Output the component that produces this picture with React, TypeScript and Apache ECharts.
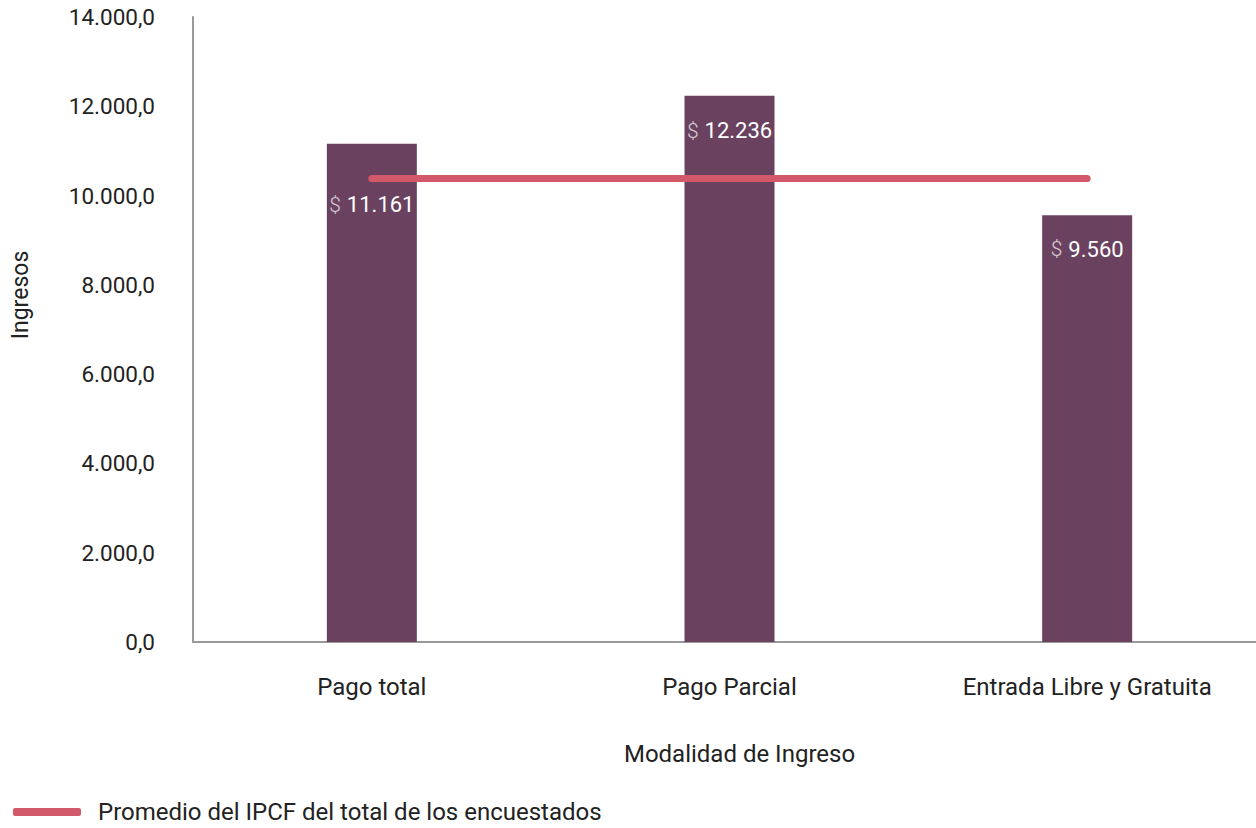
import React, { useEffect, useRef } from "react";
import * as echarts from "echarts";

const categories = ["Pago total", "Pago Parcial", "Entrada Libre y Gratuita"];
const ingresos = [11161, 12236, 9560];
const promedio = [10380, 10380, 10380];
const labelDistances = [50, 24, 23];
const lineName = "Promedio del IPCF del total de los encuestados";

const FONT = "Roboto, 'Noto Sans', sans-serif";

function fmtAxis(v: number): string {
  const s = Math.round(v).toString().replace(/\B(?=(\d{3})+(?!\d))/g, ".");
  return s + ",0";
}
function fmtVal(v: number): string {
  return Math.round(v).toString().replace(/\B(?=(\d{3})+(?!\d))/g, ".");
}

export default function App() {
  const ref = useRef<HTMLDivElement>(null);
  useEffect(() => {
    if (!ref.current) return;
    const chart = echarts.init(ref.current, undefined, { renderer: "svg" });
    chart.setOption({
      animation: false,
      textStyle: { fontFamily: FONT },
      grid: { left: 193, right: 0, top: 17, bottom: 186 },
      legend: {
        data: [lineName],
        left: 8,
        bottom: -1,
        icon: "roundRect",
        itemWidth: 68,
        itemHeight: 8,
        textStyle: { fontSize: 24, color: "#222", fontFamily: FONT, padding: [0, 0, 0, 12] },
      },
      xAxis: {
        type: "category",
        data: categories,
        name: "Modalidad de Ingreso",
        nameLocation: "middle",
        nameGap: 100,
        nameTextStyle: { fontSize: 24, color: "#222", fontFamily: FONT, padding: [0, 0, 0, 20] },
        axisLine: { lineStyle: { color: "#999", width: 2 } },
        axisTick: { show: false },
        axisLabel: { fontSize: 24, color: "#222", margin: 33, fontFamily: FONT },
      },
      yAxis: {
        type: "value",
        min: 0,
        max: 14000,
        interval: 2000,
        splitLine: { show: false },
        axisLine: { show: true, lineStyle: { color: "#999", width: 2 } },
        axisTick: { show: false },
        axisLabel: { fontSize: 22.5, color: "#222", margin: 38, formatter: fmtAxis, fontFamily: FONT },
      },
      graphic: [
        {
          type: "text",
          x: 20,
          y: 295,
          rotation: Math.PI / 2,
          style: {
            text: "Ingresos",
            fontSize: 23,
            fill: "#222",
            fontFamily: FONT,
            align: "center",
            verticalAlign: "middle",
          },
        },
      ],
      series: [
        {
          type: "bar",
          name: "Ingresos",
          barWidth: 90,
          itemStyle: { color: "#6a4260" },
          data: ingresos.map((v, i) => ({
            value: v,
            label: {
              show: true,
              position: "insideTop",
              distance: labelDistances[i],
              formatter: () => "{d|$}{v|" + fmtVal(v) + "}",
              rich: {
                d: { fontSize: 21, color: "#d8cbd4", fontWeight: 300, fontFamily: FONT, padding: [0, 6, 0, 0] },
                v: { fontSize: 22, color: "#ffffff", fontFamily: FONT },
              },
            },
          })),
        },
        {
          type: "line",
          name: lineName,
          data: promedio,
          symbol: "none",
          z: 5,
          itemStyle: { color: "#d2596a" },
          lineStyle: { color: "#d2596a", width: 7, cap: "round" },
        },
      ],
    });
    return () => chart.dispose();
  }, []);
  return (
    <div style={{ width: 1256, height: 828, position: "absolute", left: 0, top: 0, overflow: "hidden" }}>
      <div ref={ref} style={{ width: 1266, height: 828 }} />
    </div>
  );
}
